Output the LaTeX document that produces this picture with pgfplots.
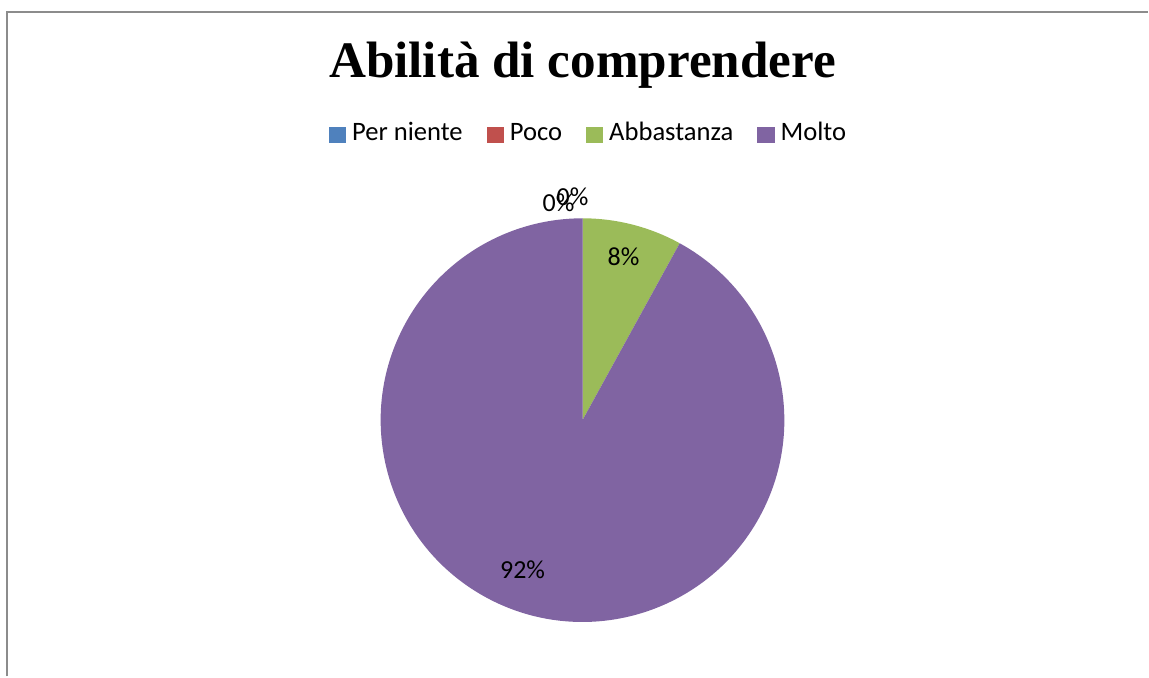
\documentclass[border=0pt]{standalone}
\usepackage{fontspec}
\setmainfont{Carlito}
\newfontfamily\titlefont{Liberation Serif}
\usepackage{pgfplots}
\pgfplotsset{compat=1.18}

\definecolor{cblue}{HTML}{4F81BD}
\definecolor{cred}{HTML}{C0504D}
\definecolor{cgreen}{HTML}{9BBB59}
\definecolor{cpurple}{HTML}{8064A2}
\definecolor{cframe}{HTML}{8C8C8C}

\begin{document}
\begin{tikzpicture}
\begin{axis}[
    width=574.5bp, height=338.5bp, scale only axis,
    xmin=0, xmax=1149, ymin=0, ymax=677,
    hide axis, clip=false,
    legend columns=4,
    legend style={draw=none, fill=none, font=\fontsize{13.3bp}{15bp}\selectfont,
        at={(axis cs:588,541)}, anchor=center,
        /tikz/every odd column/.append style={column sep=3bp},
        /tikz/every even column/.append style={column sep=12bp},
        nodes={inner sep=0bp, text height=0.72em, text depth=0.22em}},
    legend image code/.code={\fill[#1] (0bp,-3.4bp) rectangle (8.2bp,4.2bp);},
]
\path (axis cs:0,0) rectangle (axis cs:1149,677);
% frame (cropped at right and bottom)
\draw[cframe, line width=1bp] (axis cs:7,0) -- (axis cs:7,664.5) -- (axis cs:1149,664.5);

% slices: share in percent, clockwise from 12 o'clock
\pgfplotsextra{
\xdef\cur{90}
\foreach \v/\col in {0/cblue, 0/cred, 8/cgreen, 92/cpurple} {
    \pgfmathsetmacro\nxt{\cur-3.6*\v}
    \fill[\col] (axis cs:583,256.5) -- ++(\cur:101bp)
        arc[start angle=\cur, end angle=\nxt, radius=101bp] -- cycle;
    \xdef\cur{\nxt}
}
}

\addlegendimage{cblue}\addlegendentry{Per niente}
\addlegendimage{cred}\addlegendentry{Poco}
\addlegendimage{cgreen}\addlegendentry{Abbastanza}
\addlegendimage{cpurple}\addlegendentry{Molto}

\node[font=\titlefont\bfseries\fontsize{25.6bp}{30bp}\selectfont, anchor=base]
    at (axis cs:583,599) {Abilità di comprendere};

\begin{scope}[every node/.style={font=\fontsize{13bp}{15bp}\selectfont, inner sep=0}]
\node at (axis cs:559,474) {0\%};
\node at (axis cs:573,480) {0\%};
\node at (axis cs:624,420) {8\%};
\node at (axis cs:523,107) {92\%};
\end{scope}
\end{axis}
\end{tikzpicture}
\end{document}
